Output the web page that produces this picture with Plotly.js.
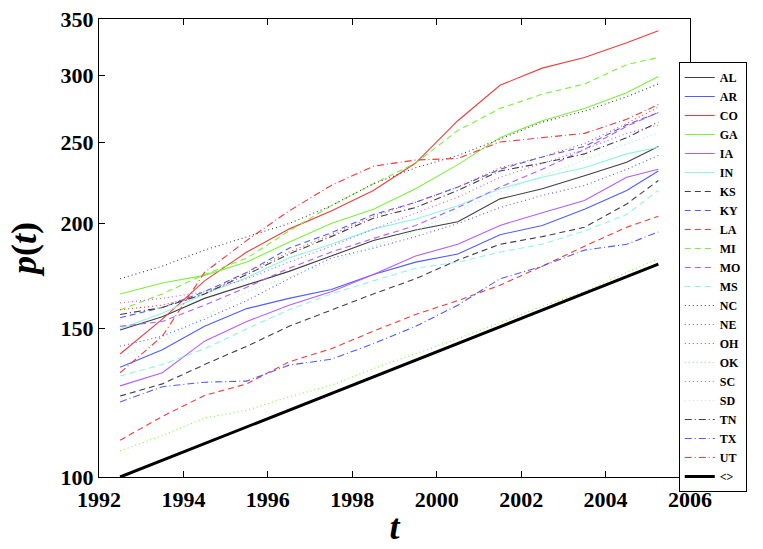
<!DOCTYPE html>
<html>
<head>
<meta charset="utf-8">
<script src="https://cdn.plot.ly/plotly-3.0.1.min.js"></script>
<style>
  body { margin: 0; background: #fff; }
  #chart { width: 763px; height: 549px; }
</style>
</head>
<body>
<div id="chart"></div>
<script>
// sample dates (mid-year)
var years = [1992.5, 1993.5, 1994.5, 1995.5, 1996.5, 1997.5, 1998.5, 1999.5, 2000.5, 2001.5, 2002.5, 2003.5, 2004.5, 2005.25];

var AL = [149.5, 155, 163, 169, 175.5, 183, 191, 196.5, 201, 214, 220, 228, 236.5, 247];
var AR = [135, 141.6, 151, 158.5, 163, 167, 174, 180, 184, 194, 199, 208, 219, 231];
var CO = [140, 154, 171, 185, 197, 207, 219, 236, 265, 292, 306, 315, 328, 339];
var GA = [165, 170, 173.6, 180, 190, 200, 208, 220, 235, 253, 265, 274, 286, 299];
var IA = [128.3, 133, 145, 153, 160, 166, 174, 183, 189, 199, 206, 213, 227, 232];
var IN = [150, 156.5, 165, 172.6, 182, 189, 197, 202.5, 210, 220, 227, 233, 242, 246.5];
var KS = [124.8, 129, 136, 143, 151, 158, 165, 172, 181, 189, 193, 198, 211, 225];
var KY = [154.6, 159, 166, 175, 187, 195, 205, 212, 221, 232, 240, 247, 262, 271];
var LA = [110.6, 118, 125, 129, 137, 142, 149, 156, 162, 169, 178, 188, 198, 204];
var MI = [158, 165, 174, 182, 196, 210, 223, 236, 258, 274, 285, 293, 309, 315];
var MO = [151, 153, 160, 168, 177, 185, 192, 199, 209, 221, 232, 245, 261, 271];
var MS = [131.8, 136, 142, 150, 158, 165, 171, 177, 180, 185, 189, 196, 205, 219];
var NC = [172, 178, 186, 193, 200, 210, 223, 233, 241, 252, 264, 272, 283, 293];
var NE = [143, 147, 154, 162, 172, 182, 187, 193, 200, 209, 216, 222, 232, 241];
var OH = [158, 160, 165, 175, 185, 194, 204, 212, 221, 233, 240, 249, 263, 275];
var OK = [107.4, 112, 117.5, 120, 124.5, 128.5, 134.5, 140, 146, 152.5, 159.5, 166, 175, 181.6];
var SC = [161, 163, 166, 172, 180, 188, 197, 206, 215, 227, 236, 245, 256, 262];
var SD = [139, 145, 155, 166, 173, 180, 188, 196, 207, 218, 228, 238, 249, 256];
var TN = [156, 159, 165, 174, 184, 193, 203, 209, 219, 231, 236, 242, 253, 264];
var TX = [122.8, 128, 129.6, 130, 135.8, 138, 144, 151, 160, 172, 178, 186, 189, 195.5];
var UT = [133, 147, 175, 191, 207, 222, 234, 238, 239, 250, 253, 256, 266, 277];

var avgYears = [1992.5, 2005.25];
var avgVals = [100, 179];

var names = ['AL','AR','CO','GA','IA','IN','KS','KY','LA','MI','MO','MS','NC','NE','OH','OK','SC','SD','TN','TX','UT'];
var series = [AL, AR, CO, GA, IA, IN, KS, KY, LA, MI, MO, MS, NC, NE, OH, OK, SC, SD, TN, TX, UT];

var colors = ['#404040', '#4f5cff', '#f03c3c', '#7cf03c', '#b45cff', '#90f5e0'];
var dashes = ['solid', '6px,4px', '1px,3px', '7px,3px,1px,3px'];

var traces = [];
for (var i = 0; i < names.length; i++) {
  traces.push({
    x: years,
    y: series[i],
    name: names[i],
    type: 'scatter',
    mode: 'lines',
    line: { color: colors[i % 6], width: 1.1, dash: dashes[Math.floor(i / 6)] }
  });
}
traces.push({
  x: avgYears,
  y: avgVals,
  name: '&lt;&gt;',
  type: 'scatter',
  mode: 'lines',
  line: { color: '#000', width: 3 }
});

var serif = 'Liberation Serif, Times New Roman, serif';

var layout = {
  width: 763,
  height: 549,
  margin: { l: 99, r: 73, t: 19, b: 72 },
  paper_bgcolor: '#fff',
  plot_bgcolor: '#fff',
  showlegend: true,
  legend: {
    x: 0.981, y: 0.906, xanchor: 'left', yanchor: 'top',
    maxheight: 520,
    bgcolor: '#fff', bordercolor: '#000', borderwidth: 1,
    font: { family: serif, size: 12, color: '#000', weight: 'bold' },
    tracegroupgap: 0
  },
  xaxis: {
    range: [1992, 2006],
    dtick: 2,
    tick0: 1992,
    ticks: 'inside',
    ticklen: 6,
    tickcolor: '#000',
    showline: true,
    linecolor: '#000',
    linewidth: 1,
    mirror: 'ticks',
    showgrid: false,
    zeroline: false,
    ticklabelstandoff: 3,
    tickfont: { family: serif, size: 22, color: '#000', weight: 'bold' },
    title: { text: '<b><i>t</i></b>', font: { family: serif, size: 36, color: '#000' }, standoff: 2 }
  },
  yaxis: {
    type: 'log',
    range: [2, Math.log10(350)],
    tickvals: [100, 150, 200, 250, 300, 350],
    ticktext: ['100', '150', '200', '250', '300', '350'],
    ticks: 'inside',
    ticklen: 6,
    tickcolor: '#000',
    showline: true,
    linecolor: '#000',
    linewidth: 1,
    mirror: 'ticks',
    showgrid: false,
    zeroline: false,
    tickfont: { family: serif, size: 22, color: '#000', weight: 'bold' },
    title: { text: '<b><i>p</i>(<i>t</i>)</b>', font: { family: serif, size: 36, color: '#000' }, standoff: 12 }
  }
};

Plotly.newPlot('chart', traces, layout, { displayModeBar: false, staticPlot: true });
</script>
</body>
</html>
